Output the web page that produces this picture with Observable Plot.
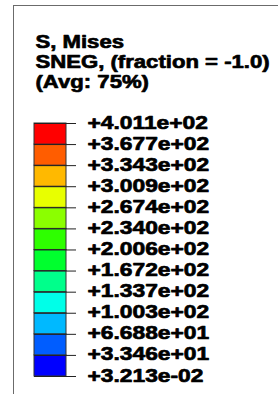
<!DOCTYPE html>
<html><head><meta charset="utf-8">
<script src="https://cdn.jsdelivr.net/npm/d3@7"></script>
<script src="https://cdn.jsdelivr.net/npm/@observablehq/plot@0.6"></script>
<style>
html,body{margin:0;padding:0;background:#fff;width:278px;height:394px;overflow:hidden}
#frame{position:absolute;left:13px;top:5px;width:280px;height:400px;border-left:1px solid #6b6b6b;border-top:1px solid #6b6b6b}
#chart{position:absolute;left:0;top:0}
</style></head><body>
<div id="frame"></div>
<div id="chart"></div>
<script>
// ---- data ----
const titleLines = ["S, Mises", "SNEG, (fraction = -1.0)", "(Avg: 75%)"];
const levels = [3.213e-02, 3.346e+01, 6.688e+01, 1.003e+02, 1.337e+02, 1.672e+02, 2.006e+02,
                2.340e+02, 2.674e+02, 3.009e+02, 3.343e+02, 3.677e+02, 4.011e+02];
const tickLabels = ["+3.213e-02", "+3.346e+01", "+6.688e+01", "+1.003e+02", "+1.337e+02", "+1.672e+02",
                    "+2.006e+02", "+2.340e+02", "+2.674e+02", "+3.009e+02", "+3.343e+02", "+3.677e+02", "+4.011e+02"];
const bandColors = ["#0000FF", "#005DFF", "#00B9FF", "#00FFE8", "#00FF8B", "#00FF2E",
                    "#2EFF00", "#8BFF00", "#E8FF00", "#FFB900", "#FF5D00", "#FF0000"];

// ---- layout ----
const W = 278, H = 394;
const BAR_X0 = 34, BAR_X1 = 66, TICK_X1 = 76, LABEL_X = 87;
const BAR_TOP = 123, BAR_BOTTOM = 376;
const FONT = "'Liberation Sans', Arial, sans-serif";
const FS = 19;

const bands = bandColors.map((c, i) => ({lo: levels[i], hi: levels[i + 1], color: c}));
const ticks = levels.map((v, i) => ({v, label: tickLabels[i]}));

const svg = Plot.plot({
  width: W, height: H,
  marginTop: 0, marginRight: 0, marginBottom: 0, marginLeft: 0,
  x: {domain: [0, W], range: [0, W], axis: null},
  y: {domain: [levels[0], levels[levels.length - 1]], range: [BAR_BOTTOM, BAR_TOP], axis: null},
  style: {background: "transparent", overflow: "visible"},
  marks: [
    Plot.rect(bands, {x1: () => BAR_X0, x2: () => BAR_X1, y1: "lo", y2: "hi",
      fill: d => d.color, stroke: "#333", strokeWidth: 1}),
    Plot.ruleY(ticks, {y: "v", x1: () => BAR_X0, x2: () => TICK_X1, stroke: "#222", strokeWidth: 1}),
    Plot.text(ticks, {x: () => LABEL_X, y: "v", text: "label", textAnchor: "start", lineAnchor: "middle",
      fontSize: FS, fontWeight: "bold", fontFamily: FONT, fill: "#000", stroke: "#000", strokeWidth: 0.7,
      dy: -1, className: "lbl"}),
    Plot.text([titleLines.join("\n")], {frameAnchor: "top-left", text: d => d, textAnchor: "start",
      lineAnchor: "top", lineHeight: 1.04, dx: 35, dy: 33.5,
      fontSize: FS, fontWeight: "bold", fontFamily: FONT, fill: "#000", stroke: "#000", strokeWidth: 0.7,
      className: "ttl"})
  ]
});

// horizontally stretch text (raster-font look of the original)
function stretch(sel, s) {
  svg.querySelectorAll(sel + " text").forEach(t => {
    const tr = t.getAttribute("transform");
    if (tr) t.setAttribute("transform", tr + ` scale(${s},1)`);
    else {
      const x = +(t.getAttribute("x") || 0);
      t.setAttribute("transform", `translate(${x},0) scale(${s},1) translate(${-x},0)`);
    }
  });
}
stretch(".lbl", 1.2);
stretch(".ttl", 1.165);
document.getElementById("chart").appendChild(svg);
</script>
</body></html>
